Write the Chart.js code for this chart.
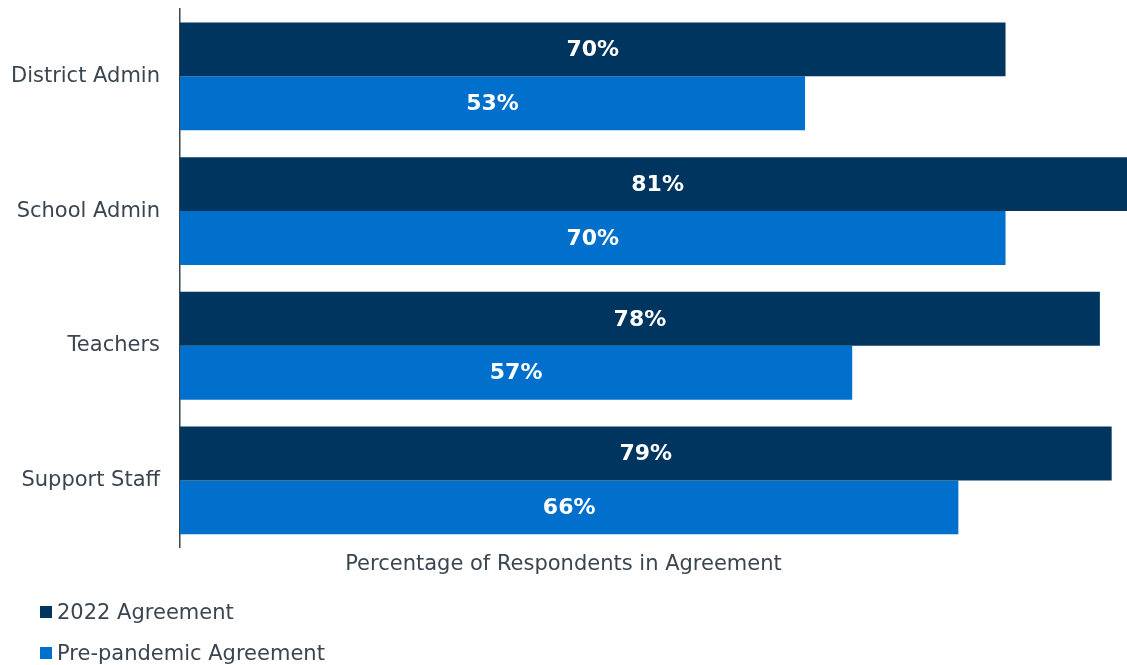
<!DOCTYPE html>
<html>
<head>
<meta charset="utf-8">
<script src="https://cdn.jsdelivr.net/npm/chart.js@4/dist/chart.umd.min.js"></script>
<style>
  body { margin: 0; background: #fff; }
  #wrap { position: relative; width: 1127px; height: 665px; }
  canvas { display: block; }
  #legend { position: absolute; left: 40px; top: 591px; font-family: "DejaVu Sans", Verdana, sans-serif; font-size: 21px; color: #3b4550; }
  #legend .item { display: flex; align-items: center; height: 41px; line-height: 28px; }
  #legend .box { width: 12px; height: 12px; margin-right: 5px; }
</style>
</head>
<body>
<div id="wrap">
  <canvas id="mycanvas" width="1127" height="665"></canvas>
  <div id="legend"></div>
</div>
<script>
var categories = ['District Admin', 'School Admin', 'Teachers', 'Support Staff'];
var agree2022 = [70, 81, 78, 79];
var prePandemic = [53, 70, 57, 66];
var seriesNames = ['2022 Agreement', 'Pre-pandemic Agreement'];

var textColor = '#3b4550';
var fontFamily = '"DejaVu Sans", Verdana, sans-serif';

// white bold value labels in the middle of each bar
var barLabels = {
	id: 'barLabels',
	afterDatasetsDraw: function(chart) {
		var ctx = chart.ctx;
		ctx.save();
		ctx.fillStyle = '#ffffff';
		ctx.font = 'bold 22px ' + fontFamily;
		ctx.textAlign = 'center';
		ctx.textBaseline = 'middle';
		chart.data.datasets.forEach(function(ds, di) {
			chart.getDatasetMeta(di).data.forEach(function(bar, i) {
				ctx.fillText(ds.data[i] + '%', (bar.x + bar.base) / 2, bar.y + 1);
			});
		});
		ctx.restore();
	}
};

var chartdata = {
	labels: categories,
	datasets: [
		{
			label: seriesNames[0],
			backgroundColor: '#00355f',
			data: agree2022,
			categoryPercentage: 0.8,
			barPercentage: 1.0
		},
		{
			label: seriesNames[1],
			backgroundColor: '#0070cc',
			data: prePandemic,
			categoryPercentage: 0.8,
			barPercentage: 1.0
		}
	]
};

var ctx = document.getElementById('mycanvas');

var barGraph = new Chart(ctx, {
	type: 'bar',
	data: chartdata,
	options: {
		indexAxis: 'y',
		responsive: false,
		animation: false,
		layout: { padding: { top: 9, bottom: 88, left: 0, right: 0 } },
		scales: {
			x: {
				display: false,
				min: 0,
				max: 80.3
			},
			y: {
				grid: { display: false, drawTicks: false },
				border: { display: true, color: '#3b4550', width: 1.5 },
				ticks: {
					color: textColor,
					padding: 20,
					font: { family: fontFamily, size: 21 }
				},
				afterFit: function(scale) {
					scale.width = 180;
					scale.paddingTop = 0;
					scale.paddingBottom = 0;
				}
			}
		},
		plugins: {
			legend: { display: false },
			tooltip: { enabled: false },
			title: {
				display: true,
				position: 'bottom',
				text: 'Percentage of Respondents in Agreement',
				color: textColor,
				font: { family: fontFamily, size: 21, weight: 'normal' },
				padding: { top: 4, bottom: 0 }
			}
		}
	},
	plugins: [barLabels]
});

// legend as stacked rows under the chart
var legend = document.getElementById('legend');
chartdata.datasets.forEach(function(ds) {
	var row = document.createElement('div');
	row.className = 'item';
	var box = document.createElement('span');
	box.className = 'box';
	box.style.background = ds.backgroundColor;
	var txt = document.createElement('span');
	txt.textContent = ds.label;
	row.appendChild(box);
	row.appendChild(txt);
	legend.appendChild(row);
});
</script>
</body>
</html>
